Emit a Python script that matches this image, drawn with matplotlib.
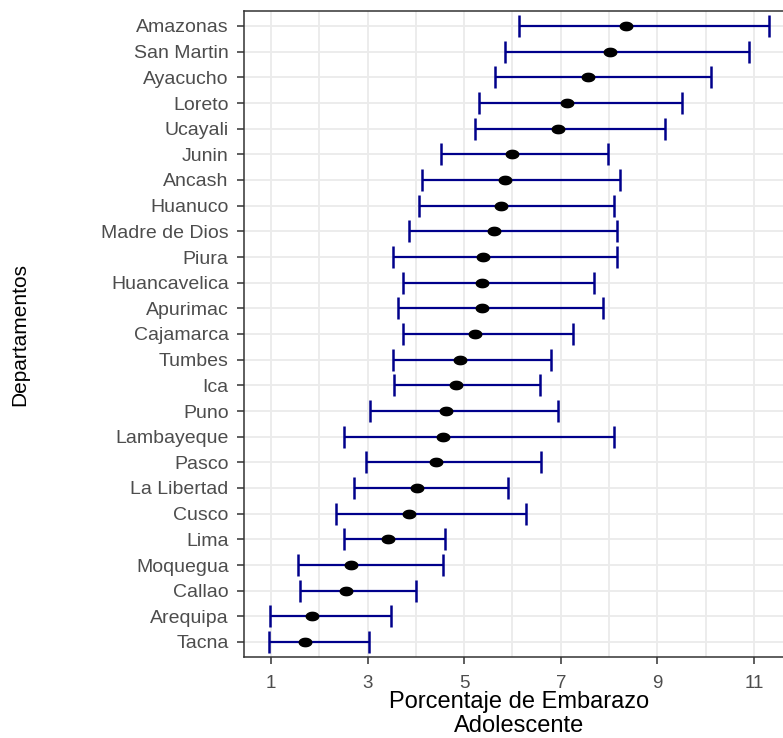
import numpy as np
import matplotlib.pyplot as plt
from matplotlib.ticker import MultipleLocator

plt.rcParams['font.family'] = ['Liberation Sans', 'DejaVu Sans']

departamentos = ['Amazonas', 'San Martin', 'Ayacucho', 'Loreto', 'Ucayali', 'Junin',
                 'Ancash', 'Huanuco', 'Madre de Dios', 'Piura', 'Huancavelica',
                 'Apurimac', 'Cajamarca', 'Tumbes', 'Ica', 'Puno', 'Lambayeque',
                 'Pasco', 'La Libertad', 'Cusco', 'Lima', 'Moquegua', 'Callao',
                 'Arequipa', 'Tacna']
porcentaje = [8.36, 8.02, 7.56, 7.12, 6.94, 6.00, 5.85, 5.76, 5.62, 5.39, 5.37,
              5.37, 5.23, 4.91, 4.84, 4.62, 4.56, 4.42, 4.02, 3.85, 3.42, 2.66,
              2.55, 1.85, 1.70]
limite_inf = [6.13, 5.85, 5.63, 5.30, 5.22, 4.51, 4.13, 4.07, 3.85, 3.52, 3.74,
              3.64, 3.74, 3.52, 3.55, 3.05, 2.51, 2.96, 2.72, 2.35, 2.51, 1.57,
              1.60, 0.99, 0.96]
limite_sup = [11.32, 10.89, 10.10, 9.50, 9.16, 7.97, 8.23, 8.10, 8.16, 8.17, 7.68,
              7.87, 7.26, 6.79, 6.57, 6.95, 8.10, 6.59, 5.90, 6.29, 4.61, 4.56,
              4.01, 3.49, 3.02]

n = len(departamentos)
y = np.arange(n)[::-1]
p = np.array(porcentaje)
err = [p - np.array(limite_inf), np.array(limite_sup) - p]

W, H = 783, 738
fig = plt.figure(figsize=(W/100, H/100), dpi=100)
# panel runs a little past the right edge of the picture (cropped like the original)
ax = fig.add_axes([244/W, 1 - 657.4/H, 550.6/W, 646.8/H])

ax.errorbar(p, y, xerr=err, fmt='none', ecolor='#00008B', elinewidth=1.6,
            capsize=8.2, capthick=1.8, zorder=3)
t = np.linspace(0, 2*np.pi, 40)
ellipse = list(zip(1.5*np.cos(t), np.sin(t)))
ax.plot(p, y, linestyle='none', marker=ellipse, markersize=9,
        color='black', zorder=4)

ax.set_xlim(0.442, 11.84)
ax.set_ylim(-0.6, n - 1 + 0.6)
ax.xaxis.set_major_locator(MultipleLocator(2, offset=1))
ax.xaxis.set_minor_locator(MultipleLocator(1))
ax.set_yticks(y)
ax.set_yticklabels(departamentos)
ax.grid(which='both', axis='x', color='#EBEBEB', linewidth=1.3, zorder=0)
ax.grid(which='major', axis='y', color='#EBEBEB', linewidth=1.3, zorder=0)
ax.set_axisbelow(True)
ax.tick_params(which='major', length=5, width=1.1, color='#333333',
               labelcolor='#4D4D4D')
ax.tick_params(axis='y', labelsize=14, pad=6)
ax.tick_params(axis='x', labelsize=13.5, pad=7.5)
ax.tick_params(which='minor', length=0)
for side in ['left', 'bottom', 'top', 'right']:
    ax.spines[side].set_color('#333333')
    ax.spines[side].set_linewidth(1.1)

ax.set_xlabel('Porcentaje de Embarazo\nAdolescente', fontsize=17, color='black',
              linespacing=1.1)
ax.xaxis.set_label_coords(0.5, -0.052)
ax.set_ylabel('Departamentos', fontsize=15, color='black')
ax.yaxis.set_label_coords(-0.39, 0.5)

fig.savefig('out.png', dpi=100)
